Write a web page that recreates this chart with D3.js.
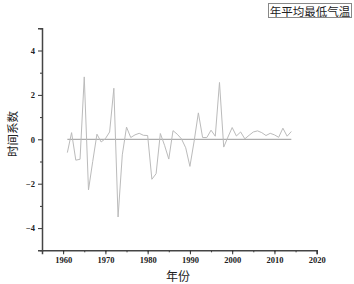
<!DOCTYPE html>
<html><head><meta charset="utf-8">
<script src="https://cdn.jsdelivr.net/npm/d3@7"></script>
<style>body{margin:0;background:#fff}svg{display:block}</style>
</head><body>
<script>
const years = d3.range(1961, 2015);
const values = [-0.60, 0.30, -0.94, -0.90, 2.81, -2.28, -1.00, 0.23, -0.12, 0.03,
  0.33, 2.30, -3.50, -0.70, 0.55, 0.08, 0.20, 0.27, 0.18, 0.17,
  -1.80, -1.55, 0.26, -0.27, -0.89, 0.39, 0.23, 0.02, -0.38, -1.22,
  -0.08, 1.19, 0.08, 0.08, 0.41, 0.14, 2.56, -0.35, 0.10, 0.53,
  0.15, 0.33, 0.02, 0.18, 0.33, 0.38, 0.30, 0.17, 0.27, 0.20,
  0.09, 0.50, 0.14, 0.35];
const xTicks = [1960, 1970, 1980, 1990, 2000, 2010, 2020];
const yTicks = [-4, -2, 0, 2, 4];
const title = "年平均最低气温";
const xLabel = "年份";
const yLabel = "时间系数";

const W = 354, H = 284;
const svg = d3.select("body").append("svg").attr("width", W).attr("height", H);
const x = d3.scaleLinear().domain([1955, 2020]).range([42, 316.7]);
const y = d3.scaleLinear().domain([-5, 5]).range([250.3, 28.3]);

const tickFont = "Liberation Serif";
// x axis minor ticks
const gx = svg.append("g").attr("transform", `translate(0,${y(-5)})`);
gx.call(d3.axisBottom(x).tickValues(d3.range(1955, 2021, 5)).tickSize(2).tickFormat(""));
gx.selectAll(".tick line").attr("stroke", "#333");
gx.select(".domain").remove();
// x axis major
const gx2 = svg.append("g").attr("transform", `translate(0,${y(-5)})`);
gx2.call(d3.axisBottom(x).tickValues(xTicks).tickSize(4).tickPadding(3).tickFormat(d3.format("d")));
gx2.select(".domain").attr("stroke", "#444").attr("stroke-width", 1.5);
gx2.selectAll(".tick line").attr("stroke", "#333");
gx2.selectAll("text").attr("font-family", tickFont).attr("font-size", 8.5).attr("font-weight", "bold").attr("fill", "#222");

// y axis minor ticks
const gy = svg.append("g").attr("transform", `translate(${x(1955)},0)`);
gy.call(d3.axisLeft(y).tickValues(d3.range(-5, 6, 2)).tickSize(2).tickFormat(""));
gy.select(".domain").remove();
gy.selectAll(".tick line").attr("stroke", "#333");
// y axis major
const gy2 = svg.append("g").attr("transform", `translate(${x(1955)},0)`);
gy2.call(d3.axisLeft(y).tickValues(yTicks).tickSize(4).tickPadding(3).tickFormat(d => d < 0 ? "−" + Math.abs(d) : d));
gy2.select(".domain").attr("stroke", "#444").attr("stroke-width", 1.5);
gy2.selectAll(".tick line").attr("stroke", "#333");
gy2.selectAll("text").attr("font-family", tickFont).attr("font-size", 8.5).attr("font-weight", "bold").attr("fill", "#222");

// zero line
svg.append("line").attr("x1", x(years[0])).attr("x2", x(years[years.length-1]))
  .attr("y1", y(0)).attr("y2", y(0)).attr("stroke", "#999").attr("stroke-width", 1);

// data line
const line = d3.line().x((d, i) => x(years[i])).y(d => y(d));
svg.append("path").datum(values).attr("d", line).attr("fill", "none")
  .attr("stroke", "#bbb").attr("stroke-width", 1);

// labels
svg.append("text").attr("x", 178).attr("y", 281).attr("text-anchor", "middle")
  .attr("font-family", "Noto Sans CJK SC").attr("font-size", 12).attr("fill", "#222").text(xLabel);
svg.append("text").attr("transform", `translate(12,134) rotate(-90)`).attr("text-anchor", "middle")
  .attr("dominant-baseline", "central")
  .attr("font-family", "Noto Sans CJK SC").attr("font-size", 11.5).attr("fill", "#222").text(yLabel);

// title box
svg.append("rect").attr("x", 268.5).attr("y", 3.5).attr("width", 83).attr("height", 14)
  .attr("fill", "#fff").attr("stroke", "#888").attr("stroke-width", 1);
svg.append("text").attr("x", 310).attr("y", 10.8).attr("text-anchor", "middle")
  .attr("dominant-baseline", "central")
  .attr("font-family", "Noto Sans CJK SC").attr("font-size", 11.5).attr("fill", "#222").text(title);
</script>
</body></html>
